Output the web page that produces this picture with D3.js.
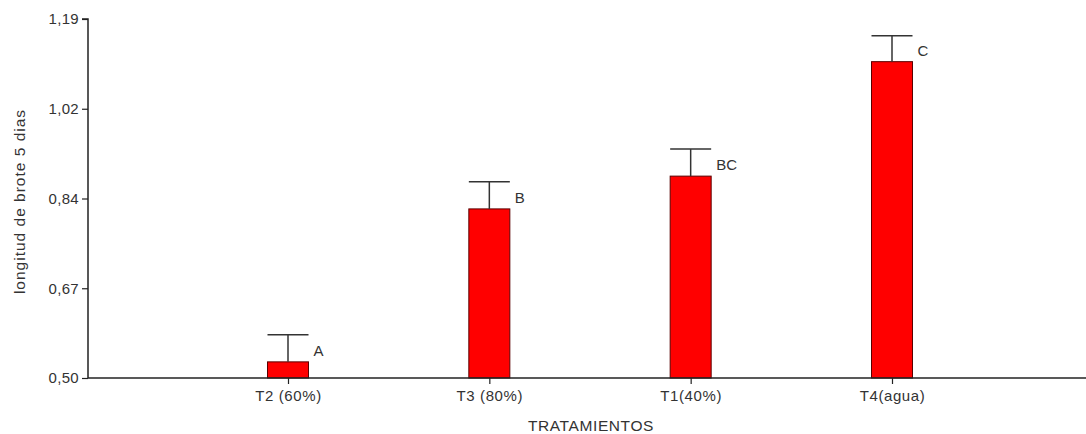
<!DOCTYPE html>
<html>
<head>
<meta charset="utf-8">
<script src="https://cdn.jsdelivr.net/npm/d3@7"></script>
<style>
  html, body { margin: 0; padding: 0; background: #fff; }
  svg { display: block; }
  text { font-family: "Liberation Sans", Arial, sans-serif; fill: #333; }
</style>
</head>
<body>
<div id="chart"></div>
<script>
// Treatments, mean shoot length at 5 days, upper error (mean + SE) and significance letters
const categories = ["T2 (60%)", "T3 (80%)", "T1(40%)", "T4(agua)"];
const means      = [0.531, 0.825, 0.888, 1.108];
const upperErr   = [0.583, 0.877, 0.940, 1.158];
const letters    = ["A", "B", "BC", "C"];
const yTickValues = [0.50, 0.6725, 0.845, 1.0175, 1.19];
const yTickLabels = ["0,50", "0,67", "0,84", "1,02", "1,19"];

const width = 1086, height = 434;
const svg = d3.select("#chart").append("svg")
  .attr("width", width).attr("height", height);

const x0 = 88, x1 = 1086, yTop = 19, yBot = 378;

const y = d3.scaleLinear().domain([0.50, 1.19]).range([yBot, yTop]);
const x = d3.scalePoint().domain(categories).range([288, 892]);
const barW = 41;

// bars
svg.append("g").selectAll("rect").data(categories).join("rect")
  .attr("x", d => x(d) - barW / 2)
  .attr("y", (d, i) => y(means[i]))
  .attr("width", barW)
  .attr("height", (d, i) => y(0.50) - y(means[i]))
  .attr("fill", "#ff0000")
  .attr("stroke", "#5a0000")
  .attr("stroke-width", 1);

// error bars (upward only) with caps the width of the bar
const eb = svg.append("g").attr("stroke", "#333").attr("stroke-width", 1.5);
eb.selectAll("line.v").data(categories).join("line").attr("class", "v")
  .attr("x1", d => x(d)).attr("x2", d => x(d))
  .attr("y1", (d, i) => y(means[i])).attr("y2", (d, i) => y(upperErr[i]));
eb.selectAll("line.c").data(categories).join("line").attr("class", "c")
  .attr("x1", d => x(d) - barW / 2).attr("x2", d => x(d) + barW / 2)
  .attr("y1", (d, i) => y(upperErr[i])).attr("y2", (d, i) => y(upperErr[i]));

// significance letters
svg.append("g").selectAll("text").data(categories).join("text")
  .attr("x", d => x(d) + barW / 2 + 5)
  .attr("y", (d, i) => y(means[i]) - 6)
  .attr("font-size", 15)
  .text((d, i) => letters[i]);

// y axis
const yAxis = d3.axisLeft(y).tickValues(yTickValues)
  .tickFormat((d, i) => yTickLabels[i]).tickSize(6).tickPadding(3);
const gy = svg.append("g").attr("transform", `translate(${x0},0)`).call(yAxis);
gy.select(".domain").attr("stroke", "#222").attr("stroke-width", 1.5)
  .attr("d", `M-6,${yTop}H0V${yBot}`);
gy.selectAll(".tick line").attr("stroke", "#222").attr("stroke-width", 1.2);
gy.selectAll(".tick text").attr("font-size", 15).attr("fill", "#333")
  .attr("letter-spacing", "0.3px")
  .attr("font-family", "Liberation Sans, Arial, sans-serif");

// x axis
const gx = svg.append("g").attr("transform", `translate(0,${yBot})`)
  .call(d3.axisBottom(x).tickSize(6).tickPadding(6));
gx.select(".domain").attr("stroke", "#222").attr("stroke-width", 1.5)
  .attr("d", `M${x0},0H${x1}`);
gx.selectAll(".tick line").attr("stroke", "#222").attr("stroke-width", 1.2);
gx.selectAll(".tick text").attr("font-size", 15).attr("fill", "#333")
  .attr("letter-spacing", "0.6px")
  .attr("font-family", "Liberation Sans, Arial, sans-serif");

// axis titles
svg.append("text")
  .attr("x", 591).attr("y", 431)
  .attr("text-anchor", "middle").attr("font-size", 15.5)
  .attr("letter-spacing", "0.6px")
  .text("TRATAMIENTOS");

svg.append("text")
  .attr("transform", `translate(25,${(yTop + yBot) / 2 + 3}) rotate(-90)`)
  .attr("text-anchor", "middle").attr("font-size", 15.5)
  .attr("letter-spacing", "1px")
  .text("longitud de brote 5 dias");
</script>
</body>
</html>
